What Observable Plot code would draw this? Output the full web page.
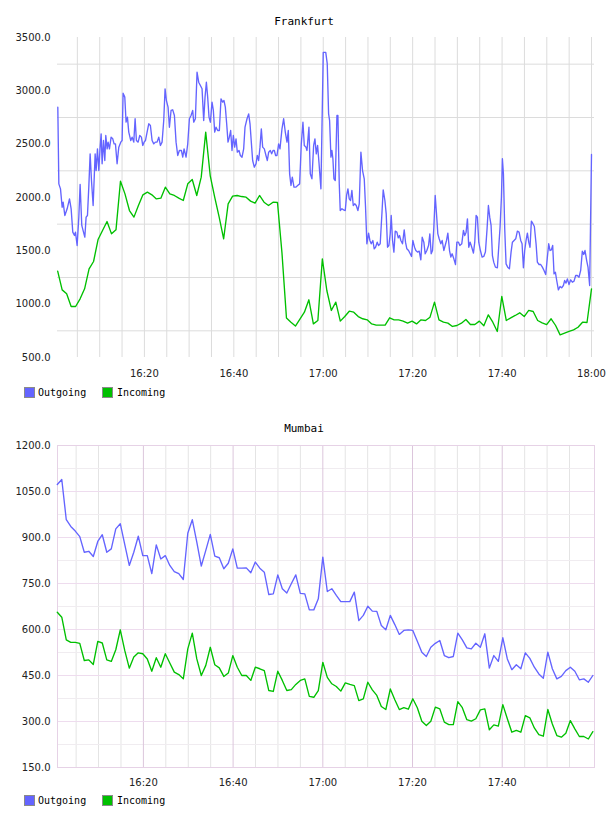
<!DOCTYPE html>
<html>
<head>
<meta charset="utf-8">
<script src="https://cdn.jsdelivr.net/npm/d3@7"></script>
<script src="https://cdn.jsdelivr.net/npm/@observablehq/plot@0.6"></script>
<style>
  body { margin: 0; background: #fff; }
  #page { position: relative; width: 608px; height: 816px; overflow: hidden; }
  .title { position: absolute; left: 0; width: 608px; text-align: center;
           font: 11px "DejaVu Sans Mono", monospace; line-height: 13px; color: #000; }
  .chart { position: absolute; left: 0; }
  .sw { position: absolute; width: 9px; height: 9px; border: 1px solid #8a8a8a; }
  .lt { position: absolute; font: 10px "DejaVu Sans Mono", monospace; line-height: 12px; color: #000; }
</style>
</head>
<body>
<div id="page"></div>
<script>
// Minutes after 16:00 for every reading.
const base = new Date(2000, 0, 1, 16, 0, 0);
const at = m => new Date(base.getTime() + m * 60000);

// ---- Frankfurt ----
// Outgoing: [minute, value]
const frankfurtOutgoing = [
  [0.63,2847],[0.86,2128],[1.23,2081],[1.60,1909],[1.82,1956],[2.20,1831],[2.72,1894],[3.24,1987],[3.61,1894],[3.98,1675],
  [4.36,1644],[4.58,1675],[4.95,1550],[5.33,1816],[5.62,2122],[5.99,1738],[6.29,1690],[6.67,1628],[6.96,1816],[7.26,1831],
  [7.56,2097],[7.86,2409],[8.16,2159],[8.53,1925],[8.98,2409],[9.20,2253],[9.50,2456],[9.80,2253],[10.09,2472],[10.32,2597],
  [10.54,2316],[10.84,2534],[11.14,2347],[11.36,2581],[11.66,2456],[11.88,2519],[12.18,2456],[12.55,2566],[12.92,2550],[13.22,2503],
  [13.52,2503],[13.89,2316],[14.27,2472],[14.71,2519],[15.01,2534],[15.23,2978],[15.61,2941],[15.90,2706],[16.20,2753],[16.50,2613],
  [16.95,2534],[17.25,2566],[17.62,2519],[17.92,2738],[18.21,2534],[18.59,2519],[18.96,2581],[19.33,2566],[19.63,2488],[19.93,2519],
  [20.23,2534],[20.60,2613],[20.97,2691],[21.34,2675],[21.72,2534],[22.09,2503],[22.46,2519],[22.83,2519],[23.21,2566],[23.58,2488],
  [23.95,2519],[24.32,2722],[24.62,3019],[24.92,2909],[25.29,2847],[25.59,2659],[25.96,2816],[26.33,2822],[26.71,2769],[27.08,2519],
  [27.45,2394],[27.82,2441],[28.27,2441],[28.57,2378],[28.87,2456],[29.31,2378],[29.69,2503],[30.06,2738],[30.43,2769],[30.80,2816],
  [31.03,2706],[31.40,2738],[31.77,3175],[32.14,3081],[32.52,3050],[32.89,3019],[33.26,2722],[33.56,2941],[33.86,3081],[34.15,2941],
  [34.45,2753],[34.75,2706],[35.12,2894],[35.42,2816],[35.72,2613],[36.02,2659],[36.39,2628],[36.76,2628],[37.13,2925],[37.51,2894],
  [37.80,2909],[38.10,2847],[38.40,2691],[38.70,2519],[39.00,2566],[39.29,2628],[39.59,2441],[39.89,2581],[40.19,2472],[40.49,2550],
  [40.78,2425],[41.16,2441],[41.46,2394],[41.83,2378],[42.20,2456],[42.50,2659],[42.95,2738],[43.32,2784],[43.62,2691],[43.91,2519],
  [44.21,2347],[44.58,2284],[44.96,2316],[45.25,2394],[45.55,2347],[45.85,2472],[46.15,2644],[46.45,2472],[46.82,2456],[47.19,2394],
  [47.49,2347],[47.79,2425],[48.16,2441],[48.46,2409],[48.76,2441],[49.05,2441],[49.35,2394],[49.65,2394],[50.02,2503],[50.32,2456],
  [50.77,2644],[51.14,2738],[51.51,2613],[51.89,2519],[52.18,2628],[52.48,2222],[52.78,2113],[53.08,2191],[53.45,2097],[53.90,2097],
  [54.27,2113],[54.72,2128],[55.09,2503],[55.46,2706],[55.76,2488],[56.13,2472],[56.36,2441],[56.80,2659],[57.10,2222],[57.47,2175],
  [57.85,2488],[58.14,2550],[58.44,2409],[58.74,2488],[59.04,2331],[59.48,2081],[60.00,3360],[60.56,3360],[60.89,3256],[61.20,2784],
  [61.42,2722],[61.72,2378],[61.94,2441],[62.16,2363],[62.39,2175],[62.69,2159],[63.06,2769],[63.28,2769],[63.58,2128],[63.80,1878],
  [64.18,1894],[64.55,1884],[64.92,1878],[65.22,2019],[65.52,2081],[65.81,1987],[66.11,1972],[66.41,2066],[66.71,1925],[67.08,1941],
  [67.38,1925],[67.75,1878],[68.05,1941],[68.42,2425],[68.79,2253],[69.17,2175],[69.46,1909],[69.76,1566],[70.14,1666],[70.43,1597],
  [70.73,1566],[71.10,1597],[71.40,1519],[71.70,1534],[72.07,1581],[72.37,1550],[72.74,1566],[73.12,1847],[73.41,2072],[73.79,1972],
  [74.08,1847],[74.38,1534],[74.68,1550],[74.98,1659],[75.20,1831],[75.50,1597],[75.80,1488],[76.10,1684],[76.47,1675],[76.77,1622],
  [77.06,1644],[77.36,1597],[77.73,1566],[78.11,1697],[78.40,1581],[78.70,1519],[79.08,1503],[79.45,1472],[79.75,1447],[80.04,1597],
  [80.42,1534],[80.71,1503],[81.09,1488],[81.46,1497],[81.83,1416],[82.13,1628],[82.50,1581],[82.80,1472],[83.17,1503],[83.55,1550],
  [83.84,1659],[84.14,1472],[84.44,1503],[84.74,1722],[85.04,2019],[85.33,1847],[85.63,1659],[85.93,1613],[86.30,1566],[86.60,1597],
  [86.97,1503],[87.27,1550],[87.57,1597],[87.87,1666],[88.24,1503],[88.54,1441],[88.83,1472],[89.21,1425],[89.58,1372],[89.88,1581],
  [90.25,1581],[90.55,1550],[90.98,1566],[91.36,1691],[91.65,1644],[91.95,1675],[92.25,1800],[92.55,1534],[92.85,1581],[93.22,1534],
  [93.59,1478],[93.89,1581],[94.19,1831],[94.48,1816],[94.78,1581],[95.15,1503],[95.53,1441],[95.90,1447],[96.27,1488],[96.64,1706],
  [96.94,1925],[97.24,1816],[97.54,1738],[97.84,1456],[98.13,1394],[98.51,1347],[98.95,1341],[99.25,1534],[99.55,1722],[99.85,2003],
  [100.07,2363],[100.30,2222],[100.59,1706],[100.89,1378],[101.26,1347],[101.64,1331],[102.01,1488],[102.31,1581],[102.68,1597],[103.05,1613],
  [103.42,1684],[103.80,1675],[104.17,1597],[104.47,1566],[104.77,1341],[105.06,1503],[105.36,1597],[105.66,1666],[105.96,1581],[106.25,1534],
  [106.55,1778],[106.85,1759],[107.22,1728],[107.60,1566],[107.89,1394],[108.27,1372],[108.64,1372],[109.01,1347],[109.38,1316],[109.76,1278],
  [110.13,1441],[110.43,1566],[110.73,1503],[111.02,1509],[111.32,1550],[111.62,1284],[111.92,1300],[112.22,1222],[112.59,1134],[112.96,1166],
  [113.33,1153],[113.71,1175],[114.00,1222],[114.30,1197],[114.60,1237],[114.97,1184],[115.34,1228],[115.72,1206],[116.09,1216],[116.46,1269],
  [116.83,1269],[117.21,1253],[117.58,1316],[117.95,1497],[118.25,1466],[118.55,1503],[118.92,1409],[119.22,1347],[119.59,1175],[120.00,2403]
];
// Incoming: one reading per minute, first at 0.6 min, last at 120 min
const frankfurtIncoming = [
  1309,1134,1097,978,978,1050,1144,1331,1400,1606,
  1691,1775,1659,1697,2153,2034,1878,1816,1925,2025,
  2050,2025,1987,1994,2097,2034,2019,1994,1972,2128,
  2169,2019,2191,2613,2206,2003,1816,1613,1941,2013,
  2019,2009,2003,1966,1947,2019,1956,1925,1956,1953,
  1480,870,830,795,860,925,1041,815,847,1425,
  1128,941,1019,841,884,934,925,884,863,853,
  815,803,803,803,872,853,853,841,822,841,
  815,853,847,878,1019,853,831,822,791,800,
  822,856,809,809,841,797,900,831,744,1072,
  847,872,894,919,884,941,931,847,825,809,
  863,800,712,728,744,759,784,831,828,1144
];
const frankfurtIncomingSpan = [0.6, 120.0];

// ---- Mumbai ----  one reading per minute, first at 0.8 min, last at 120.2 min
const mumbaiOutgoing = [
  1073,1089,958,936,921,903,852,855,838,887,
  909,852,863,928,945,877,809,852,904,841,
  841,782,876,830,841,809,789,782,763,914,
  958,885,807,858,910,839,834,798,816,863,
  800,800,801,785,820,800,787,714,716,778,
  733,719,749,778,718,716,664,664,700,836,
  724,733,711,691,691,691,722,629,646,676,
  660,659,613,599,646,616,584,597,599,597,
  562,526,512,542,555,564,515,508,512,588,
  566,540,537,555,542,586,474,515,496,573,
  504,469,485,472,524,506,477,455,441,526,
  472,439,447,466,477,464,436,439,428,450
];
const mumbaiIncoming = [
  656,640,566,558,558,555,499,501,486,561,
  556,501,496,534,599,531,474,510,524,521,
  504,464,508,477,521,491,461,453,439,537,
  588,504,450,483,542,485,475,447,458,515,
  477,450,450,434,477,472,466,401,398,464,
  434,401,404,421,434,439,382,379,401,493,
  444,423,414,399,426,421,417,368,374,428,
  403,385,349,339,406,371,339,345,340,374,
  345,301,287,301,347,341,298,290,290,365,
  345,306,301,309,338,341,273,289,285,355,
  309,265,271,265,319,312,279,257,252,339,
  292,254,249,262,303,276,251,251,243,267
];
const mumbaiSpan = [0.8, 120.2];

// Axis ticks and grid positions (minutes after 16:00 / values)
const frankfurtTimeTicks = [20, 40, 60, 80, 100, 120];
const frankfurtTimeGrid = d3.range(5, 121, 5);
const frankfurtValueTicks = [500, 1000, 1500, 2000, 2500, 3000, 3500];
const frankfurtValueGrid = [750, 1250, 1750, 2250, 2750, 3250];

const mumbaiTimeTicks = [20, 40, 60, 80, 100];
const mumbaiTimeGrid = [5, 10, 15, 25, 30, 35, 45, 50, 55, 65, 70, 75, 85, 90, 95, 105, 110, 115];
const mumbaiValueTicks = [150, 300, 450, 600, 750, 900, 1050, 1200];
const mumbaiValueGrid = [225, 375, 525, 675, 825, 975, 1125];

const OUT_COLOR = "#6464ff";
const IN_COLOR = "#00c000";

const evenly = (values, [first, last]) =>
  values.map((v, i) => ({time: at(first + i * (last - first) / (values.length - 1)), value: v}));

const page = document.getElementById("page");
const fmtTime = d3.timeFormat("%H:%M");
const fmtVal = d3.format(".1f");

function addText(cls, text, left, top) {
  const el = document.createElement("div");
  el.className = cls;
  el.textContent = text;
  el.style.top = top + "px";
  if (left != null) el.style.left = left + "px";
  page.appendChild(el);
}
function addLegend(top) {
  const items = [["Outgoing", OUT_COLOR, 24, 38], ["Incoming", IN_COLOR, 102, 117]];
  for (const [label, color, sx, tx] of items) {
    const sw = document.createElement("div");
    sw.className = "sw";
    sw.style.left = sx + "px";
    sw.style.top = top + "px";
    sw.style.background = color;
    page.appendChild(sw);
    addText("lt", label, tx, top - 0.5);
  }
}

// Frankfurt
addText("title", "Frankfurt", null, 14.5);
const fOut = frankfurtOutgoing.map(([m, v]) => ({time: at(m), value: v}));
const fIn = evenly(frankfurtIncoming, frankfurtIncomingSpan);
const chart1 = Plot.plot({
  width: 608, height: 380,
  marginTop: 37, marginBottom: 23, marginLeft: 57, marginRight: 14,
  style: {fontFamily: "'DejaVu Sans', sans-serif", fontSize: "10px", color: "#222", background: "transparent", overflow: "visible"},
  x: {type: "time", domain: [at(0.56), at(120)], range: [57, 591],
      ticks: frankfurtTimeTicks.map(at), tickFormat: fmtTime, tickSize: 0, tickPadding: 12, label: null},
  y: {domain: [500, 3500], ticks: frankfurtValueTicks, tickFormat: fmtVal, tickSize: 0, tickPadding: 7, label: null},
  marks: [
    Plot.ruleX(frankfurtTimeGrid.map(at), {stroke: "#dcdcdc", strokeWidth: 1}),
    Plot.ruleY(frankfurtValueGrid, {stroke: "#dcdcdc", strokeWidth: 1}),
    Plot.line(fIn, {x: "time", y: "value", stroke: IN_COLOR, strokeWidth: 1.35}),
    Plot.line(fOut, {x: "time", y: "value", stroke: OUT_COLOR, strokeWidth: 1.35})
  ]
});
chart1.classList.add("chart");
chart1.style.top = "0px";
page.appendChild(chart1);
addLegend(387);

// Mumbai
addText("title", "Mumbai", null, 422);
const mOut = evenly(mumbaiOutgoing, mumbaiSpan);
const mIn = evenly(mumbaiIncoming, mumbaiSpan);
const chart2 = Plot.plot({
  width: 608, height: 380,
  marginTop: 37, marginBottom: 21, marginLeft: 57, marginRight: 14,
  style: {fontFamily: "'DejaVu Sans', sans-serif", fontSize: "10px", color: "#222", background: "transparent", overflow: "visible"},
  x: {type: "time", domain: [at(0.85), at(120.57)], range: [57, 594],
      ticks: mumbaiTimeTicks.map(at), tickFormat: fmtTime, tickSize: 0, tickPadding: 11, label: null},
  y: {domain: [150, 1200], ticks: mumbaiValueTicks, tickFormat: fmtVal, tickSize: 0, tickPadding: 7, label: null},
  marks: [
    Plot.ruleX(mumbaiTimeGrid.map(at), {stroke: "#e4e4e4", strokeWidth: 1}),
    Plot.ruleY(mumbaiValueGrid, {stroke: "#f0ecf0", strokeWidth: 1}),
    Plot.ruleX(mumbaiTimeTicks.map(at), {stroke: "#dcc6dc", strokeWidth: 1}),
    Plot.ruleY(mumbaiValueTicks.slice(1, -1), {stroke: "#eedcee", strokeWidth: 1}),
    Plot.frame({stroke: "#e6d2e6", strokeWidth: 1}),
    Plot.line(mIn, {x: "time", y: "value", stroke: IN_COLOR, strokeWidth: 1.35}),
    Plot.line(mOut, {x: "time", y: "value", stroke: OUT_COLOR, strokeWidth: 1.35})
  ]
});
chart2.classList.add("chart");
chart2.style.top = "408px";
page.appendChild(chart2);
addLegend(795);
</script>
</body>
</html>
